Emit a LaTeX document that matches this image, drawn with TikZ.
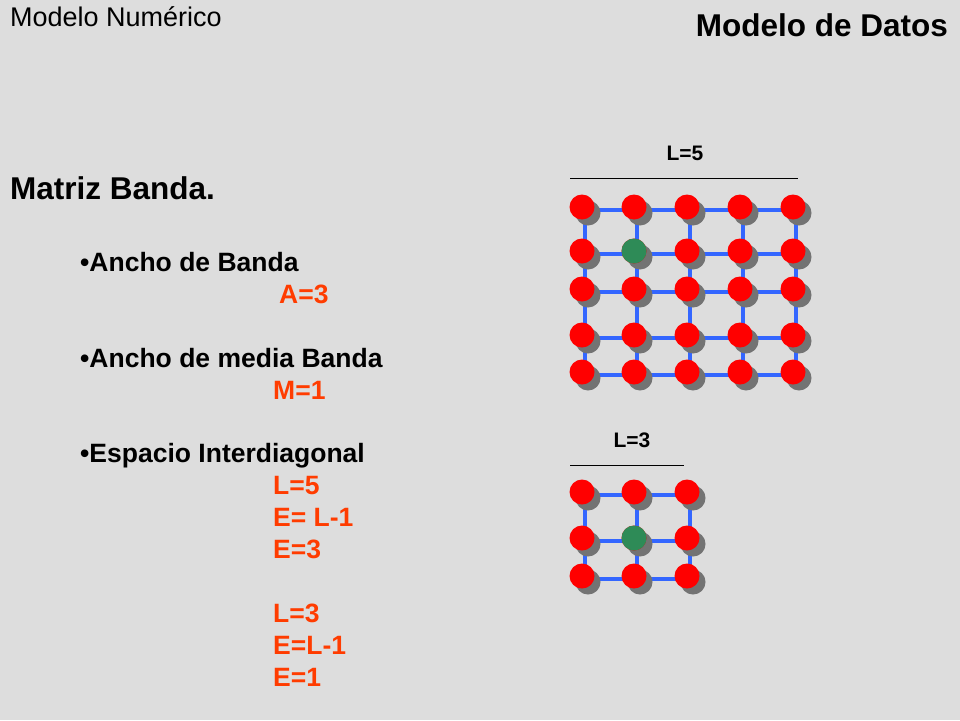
\documentclass[tikz,border=0pt]{standalone}
\usepackage{fontspec}
\setmainfont{Liberation Sans}
\definecolor{bgray}{RGB}{221,221,221}
\definecolor{redtxt}{RGB}{255,60,0}
\definecolor{gridblue}{RGB}{51,102,255}
\definecolor{greennode}{RGB}{46,139,87}
\tikzset{
  dot/.style={circle,fill=red,minimum size=25pt,inner sep=0pt},
  shadowdot/.style={circle,fill=gray!90!black,minimum size=25pt,inner sep=0pt},
  gridline/.style={gridblue,line width=4pt},
  txt/.style={anchor=base west,inner sep=0pt}
}
\newcommand{\fs}[1]{\fontsize{#1}{#1}\selectfont}
\begin{document}
\begin{tikzpicture}[x=1pt,y=-1pt]
    \useasboundingbox[fill=bgray] (0,0) rectangle (960,720);
    % titles
    \node[txt] (t1) at (10,27) {\fs{27}Modelo Numérico};
    \node[anchor=base east,inner sep=0pt] (t2) at (948,36) {\fs{31.5}\bfseries Modelo de Datos};
    \node[txt] (t3) at (10,199) {\fs{31.5}\bfseries Matriz Banda.};
    % bullet text
    \node[txt] (b1) at (80,271) {\fs{26.5}\bfseries •Ancho de Banda};
    \node[txt,text=redtxt] (a1) at (279,303) {\fs{26.5}\bfseries A=3};
    \node[txt] (b2) at (80,367) {\fs{26.5}\bfseries •Ancho de media Banda};
    \node[txt,text=redtxt] (m1) at (273,399) {\fs{26.5}\bfseries M=1};
    \node[txt] (b3) at (80,462) {\fs{26.5}\bfseries •Espacio Interdiagonal};
    \foreach \t [count=\i from 0] in {L=5,E= L-1,E=3,,L=3,E=L-1,E=1}
        \node[txt,text=redtxt] (e\i) at (273,494+32*\i) {\fs{26.5}\bfseries \t};
    % big grid
    \node[anchor=base,inner sep=0pt] (l5) at (685,160) {\fs{21}\bfseries L=5};
    \coordinate (l5a) at (570,178); \coordinate (l5b) at (798,178);
    \draw[line width=0.6pt] (l5a) -- (l5b);
    \foreach \x [count=\i] in {582,634,687,740,793}
        \foreach \y [count=\j] in {207,251,289,335,372}
            \coordinate (p\i\j) at (\x,\y);
    \foreach \i in {1,...,5}
        \draw[gridline] ([shift={(3,3)}]p\i1) -- ([shift={(3,3)}]p\i5);
    \foreach \j in {1,...,5}
        \draw[gridline] ([shift={(3,3)}]p1\j) -- ([shift={(3,3)}]p5\j);
    \foreach \i in {1,...,5}
        \foreach \j in {1,...,5} {
            \node[shadowdot] at ([shift={(6,6)}]p\i\j) {};
            \node[dot] (n\i\j) at (p\i\j) {};
        }
    \node[dot,fill=greennode] (g1) at (p22) {};
    % small grid
    \node[anchor=base,inner sep=0pt] (l3) at (632,447) {\fs{21}\bfseries L=3};
    \coordinate (l3a) at (570,465); \coordinate (l3b) at (684,465);
    \draw[line width=0.6pt] (l3a) -- (l3b);
    \foreach \x [count=\i] in {582,634,687}
        \foreach \y [count=\j] in {492,538,576}
            \coordinate (q\i\j) at (\x,\y);
    \foreach \i in {1,...,3}
        \draw[gridline] ([shift={(3,3)}]q\i1) -- ([shift={(3,3)}]q\i3);
    \foreach \j in {1,...,3}
        \draw[gridline] ([shift={(3,3)}]q1\j) -- ([shift={(3,3)}]q3\j);
    \foreach \i in {1,...,3}
        \foreach \j in {1,...,3} {
            \node[shadowdot] at ([shift={(6,6)}]q\i\j) {};
            \node[dot] (m\i\j) at (q\i\j) {};
        }
    \node[dot,fill=greennode] (g2) at (q22) {};
\end{tikzpicture}
\end{document}
